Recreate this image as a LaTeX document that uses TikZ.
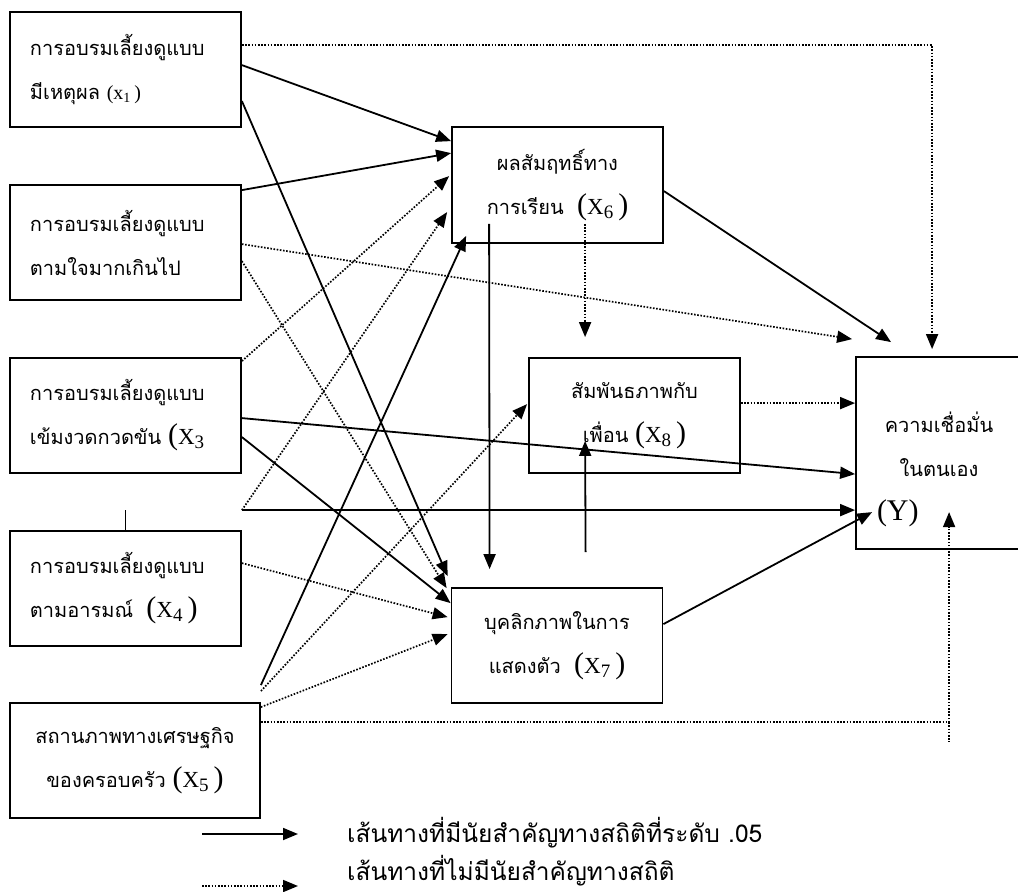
\documentclass[tikz,border=0pt]{standalone}
\usepackage{fontspec}
\setmainfont{Liberation Serif}
\newfontfamily\thai[Script=Thai]{Loma}
\usetikzlibrary{arrows.meta, calc}

\newcommand\vxo[1]{{\rmfamily\fontsize{30}{44}\selectfont(\fontsize{23}{44}\selectfont X\raisebox{-4pt}{\fontsize{19}{19}\selectfont #1}}}
\newcommand\vx[1]{\vxo{#1}{\rmfamily\fontsize{30}{44}\selectfont\,)}}

\tikzset{
  box/.style={draw, line width=1.8pt, minimum height=115pt, inner ysep=0pt,
    font=\thai\fontsize{20}{44}\selectfont},
  lbox/.style={box, align=left, inner xsep=20pt, text width=191pt},
  cbox/.style={box, align=center, inner xsep=10pt, text width=191pt},
  sig/.style={-{Triangle[length=15pt,width=12pt]}, line width=1.8pt},
  ns/.style={-{Triangle[length=15pt,width=12pt]}, line width=1.7pt,
    dash pattern=on 1.6pt off 1.6pt},
}

\begin{document}
\begin{tikzpicture}[x=1pt, y=-1pt]
  \useasboundingbox (0,0) rectangle (1018,892);

  % ตัวแปรต้น
  \node[lbox] (b1) at (125.5,69.5) {การอบรมเลี้ยงดูแบบ\\มีเหตุผล {\rmfamily\fontsize{20}{44}\selectfont(x\textsubscript{1}\,)}};
  \node[lbox] (b2) at (125.5,242.5) {การอบรมเลี้ยงดูแบบ\\ตามใจมากเกินไป};
  \node[lbox] (b3) at (125.5,415.5) {การอบรมเลี้ยงดูแบบ\\เข้มงวดกวดขัน \vxo{3}};
  \node[lbox] (b4) at (125.5,588.5) {การอบรมเลี้ยงดูแบบ\\ตามอารมณ์\ \ \vx{4}};
  \node[cbox, text width=230pt] (b5) at (135,760.5) {สถานภาพทางเศรษฐกิจ\\ของครอบครัว \vx{5}};

  % ตัวแปรส่งผ่าน
  \node[cbox, minimum height=116pt] (x6) at (557.5,185) {ผลสัมฤทธิ์ทาง\\การเรียน\ \ \vx{6}};
  \node[cbox] (x7) at (557,645.5) {บุคลิกภาพในการ\\แสดงตัว\ \ \vx{7}};
  \node[cbox] (x8) at (634.5,415.5) {สัมพันธภาพกับ\\เพื่อน \vx{8}};

  % ตัวแปรตาม
  \node[cbox, text width=146pt, minimum height=192pt] (y) at (939,453)
    {\mbox{}\\[10pt]ความเชื่อมั่น\\ในตนเอง\\\makebox[124pt][l]{\rmfamily\fontsize{30}{44}\selectfont(Y)}};

  \coordinate (hub) at ($(b4.north east)+(0,-20)$);
  \draw[line width=1.8pt] (b4.north) -- ++(0,-20);

  % เส้นทางที่มีนัยสำคัญ
  \draw[sig] ($(b1.north east)+(0,54)$) -- ($(x6.north west)+(0,15)$);
  \draw[sig] ($(b2.north east)+(0,6)$) -- ($(x6.north west)+(0,27)$);
  \draw[sig] ($(b1.north east)+(0,90)$) -- ($(x7.north west)+(-3,-11)$);
  \draw[sig] ($(b3.north east)+(0,61)$) -- ($(y.north west)+(0,118)$);
  \draw[sig] ($(b3.north east)+(0,80)$) -- ($(x7.north west)+(0,16)$);
  \draw[sig] (hub) -- ($(y.north west)+(0,154)$);
  \draw[sig] ($(b5.north east)+(0,-17)$) -- ($(x6.south west)+(15,-8)$);
  \draw[sig] ($(x6.south west)+(38,-20)$) -- ($(x7.north west)+(39,-18)$);
  \draw[sig] ($(x7.north west)+(135,-35)$) -- ($(x8.south west)+(57,-33)$);
  \draw[sig] ($(x6.north east)+(0,65)$) -- ($(y.north west)+(36,-14)$);
  \draw[sig] ($(x7.north east)+(0,37)$) -- ($(y.north west)+(17,156)$);

  % เส้นทางที่ไม่มีนัยสำคัญ
  \draw[ns] ($(b1.north east)+(0,34)$) -| ($(y.north west)+(77,-7)$);
  \draw[ns] ($(b2.north east)+(0,60)$) -- ($(y.north west)+(-3,-17)$);
  \draw[ns] ($(b2.north east)+(0,77)$) -- ($(x7.north west)+(-4,1)$);
  \draw[ns] ($(b3.north east)+(0,4)$) -- ($(x6.north west)+(-2,50)$);
  \draw[ns] (hub) -- ($(x6.north west)+(-4,86)$);
  \draw[ns] ($(b5.north east)+(0,-11)$) -- ($(x8.north west)+(-1,47)$);
  \draw[ns] ($(b4.north east)+(0,33)$) -- ($(x7.north west)+(-3,30)$);
  \draw[ns] ($(b5.north east)+(0,5)$) -- ($(x7.north west)+(-3,47)$);
  \coordinate (turn) at ($(y.north west)+(94,366)$);
  \draw[ns] ($(b5.north east)+(0,20)$) -- (turn) -- ($(y.north west)+(94,156)$);
  \draw[ns, -] (turn) -- ++(0,20);
  \draw[ns] ($(x6.south west)+(134,-20)$) -- ($(x8.north west)+(57,-20)$);
  \draw[ns] ($(x8.north east)+(0,46)$) -- ($(y.north west)+(0,47)$);

  % คำอธิบาย
  \node[anchor=west, inner sep=0pt, font=\thai\fontsize{24.5}{28}\selectfont] (sigtxt) at (347,833) {เส้นทางที่มีนัยสำคัญทางสถิติที่ระดับ .05};
  \node[anchor=west, inner sep=0pt, font=\thai\fontsize{24.5}{28}\selectfont] (nstxt) at (347,871) {เส้นทางที่ไม่มีนัยสำคัญทางสถิติ};
  \draw[sig] ($(sigtxt.west)+(-145,1)$) -- ($(sigtxt.west)+(-49,1)$);
  \draw[ns] ($(nstxt.west)+(-145,15)$) -- ($(nstxt.west)+(-49,15)$);
\end{tikzpicture}
\end{document}
